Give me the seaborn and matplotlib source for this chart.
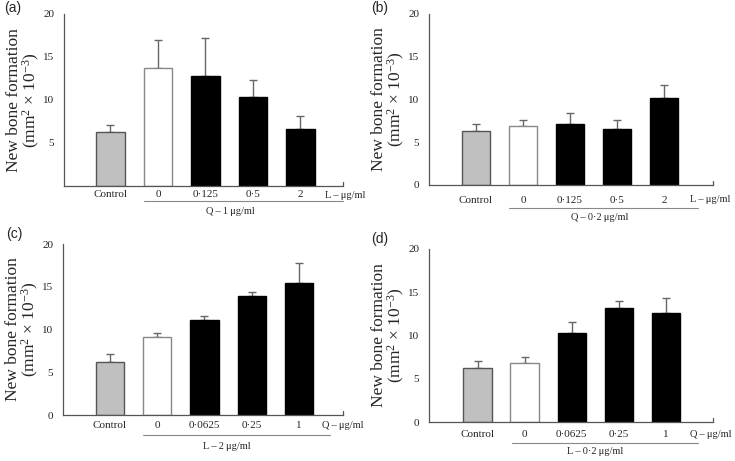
import matplotlib
matplotlib.use("Agg")
import matplotlib.pyplot as plt
import seaborn as sns
import pandas as pd
import numpy as np

sns.set_style("white")
plt.rcParams["font.family"] = ["Liberation Serif", "DejaVu Serif"]
plt.rcParams["mathtext.fontset"] = "custom"
plt.rcParams["mathtext.rm"] = "Liberation Serif"
plt.rcParams["mathtext.it"] = "Liberation Serif:italic"
plt.rcParams["mathtext.bf"] = "Liberation Serif:bold"

TS = "\u2009"  # thin space

# ---- data ----
cats_a = ["Control", "0", "0·125", "0·5", "2"]
vals_a = [6.25, 13.75, 12.8, 10.3, 6.6]
errs_a = [0.8, 3.2, 4.45, 2.0, 1.55]

cats_b = ["Control", "0", "0·125", "0·5", "2"]
vals_b = [6.3, 6.95, 7.1, 6.5, 10.15]
errs_b = [0.8, 0.6, 1.3, 1.15, 1.5]

cats_c = ["Control", "0", "0·0625", "0·25", "1"]
vals_c = [6.25, 9.1, 11.15, 13.95, 15.4]
errs_c = [0.85, 0.45, 0.4, 0.45, 2.4]

cats_d = ["Control", "0", "0·0625", "0·25", "1"]
vals_d = [6.2, 6.8, 10.25, 13.15, 12.6]
errs_d = [0.9, 0.75, 1.3, 0.8, 1.7]

bar_colors = ["#c0c0c0", "#ffffff", "#000000", "#000000", "#000000"]
edge_colors = ["#555555", "#888888", "#000000", "#000000", "#000000"]

panels = [
    dict(tag="(a)", cats=cats_a, vals=vals_a, errs=errs_a, axis_unit=f"L{TS}–{TS}μg/ml",
         group=f"Q{TS}–{TS}1{TS}μg/ml", yt=[5, 10, 15, 20],
         rect_px=(64, 14, 343, 186), xlim=(-0.98, 4.9), tick_pad=3,
         line=(0.7, 4.9), line_y=-15, grp_x=2.53, grp_y=-26, unit_end=365,
         tag_xy=(13, 8)),
    dict(tag="(b)", cats=cats_b, vals=vals_b, errs=errs_b, axis_unit=f"L{TS}–{TS}μg/ml",
         group=f"Q{TS}–{TS}0·2{TS}μg/ml", yt=[0, 5, 10, 15, 20],
         rect_px=(429, 14, 713, 185), xlim=(-1.0, 5.04), tick_pad=8,
         line=(0.7, 4.72), line_y=-23, grp_x=2.64, grp_y=-33, unit_end=730,
         tag_xy=(380, 8)),
    dict(tag="(c)", cats=cats_c, vals=vals_c, errs=errs_c, axis_unit=f"Q{TS}–{TS}μg/ml",
         group=f"L{TS}–{TS}2{TS}μg/ml", yt=[0, 5, 10, 15, 20],
         rect_px=(63, 244, 343, 415), xlim=(-0.99, 4.93), tick_pad=4,
         line=(0.7, 4.65), line_y=-20, grp_x=2.47, grp_y=-31, unit_end=364,
         tag_xy=(14, 234)),
    dict(tag="(d)", cats=cats_d, vals=vals_d, errs=errs_d, axis_unit=f"Q{TS}–{TS}μg/ml",
         group=f"L{TS}–{TS}0·2{TS}μg/ml", yt=[0, 5, 10, 15, 20],
         rect_px=(429, 249, 713, 422), xlim=(-1.03, 5.0), tick_pad=6,
         line=(0.73, 4.69), line_y=-21, grp_x=2.49, grp_y=-30, unit_end=731,
         tag_xy=(380, 239)),
]

W, H = 735, 461
FS = 8
FS2 = 7.5
fig = plt.figure(figsize=(W / 100, H / 100), dpi=100)

for p in panels:
    l, t, r, b = p["rect_px"]
    ax = fig.add_axes([l / W, 1 - b / H, (r - l) / W, (b - t) / H])
    df = pd.DataFrame({"cat": p["cats"], "val": p["vals"]})
    sns.barplot(data=df, x="cat", y="val", ax=ax, width=0.6, errorbar=None,
                hue="cat", palette=bar_colors, legend=False, saturation=1)
    for i, patch in enumerate(ax.patches):
        patch.set_edgecolor(edge_colors[i])
        patch.set_linewidth(1.0)
    xs = np.arange(len(p["cats"]))
    v = np.array(p["vals"])
    e = np.array(p["errs"])
    ax.errorbar(xs, v, yerr=[np.zeros_like(e), e], fmt="none", ecolor="#666666",
                elinewidth=1.0, capsize=3, capthick=1.0, zorder=0.5)
    ax.set_ylim(0, 20)
    ax.set_xlim(*p["xlim"])
    ax.set_yticks(p["yt"])
    ax.set_yticklabels([str(y) for y in p["yt"]], fontsize=FS)
    ax.set_xticks(xs)
    ax.set_xticklabels(p["cats"], fontsize=FS)
    ax.tick_params(axis="x", length=0, pad=p["tick_pad"])
    ax.tick_params(axis="y", direction="out", length=3, width=0.8, colors="#222222", pad=4)
    ax.set_xlabel("")
    ax.set_ylabel("New bone formation\n(mm$^{2}$ × 10$^{-3}$)", fontsize=12.5,
                  linespacing=0.92, labelpad=1)
    for s in ["top", "right"]:
        ax.spines[s].set_visible(False)
    for s in ["left", "bottom"]:
        ax.spines[s].set_color("#555555")
        ax.spines[s].set_linewidth(0.9)
    # end tick on the x-axis
    ax.plot([1, 1], [0, 0.025], transform=ax.transAxes, color="#555555", lw=0.9, clip_on=False)
    trans = matplotlib.transforms.blended_transform_factory(ax.transData, ax.transAxes)
    off = matplotlib.transforms.offset_copy
    # axis unit label (right aligned at its reference end position in pixels)
    fig.text(p["unit_end"] / W, 0, p["axis_unit"], fontsize=FS2, ha="right", va="top",
             transform=off(matplotlib.transforms.blended_transform_factory(fig.transFigure, ax.transAxes),
                           fig=fig, x=0, y=-(p["tick_pad"] + 2), units="dots"))
    # group underline
    ax.plot(p["line"], [0, 0], color="#888888", lw=0.8, clip_on=False,
            transform=off(trans, fig=fig, x=0, y=p["line_y"], units="dots"))
    ax.text(p["grp_x"], 0, p["group"], fontsize=FS2, ha="center", va="center",
            transform=off(trans, fig=fig, x=0, y=p["grp_y"], units="dots"))
    fig.text(p["tag_xy"][0] / W, 1 - p["tag_xy"][1] / H, p["tag"], fontsize=10,
             family=["Liberation Sans", "DejaVu Sans"], ha="center", va="center")

fig.savefig("out.png", dpi=100)
